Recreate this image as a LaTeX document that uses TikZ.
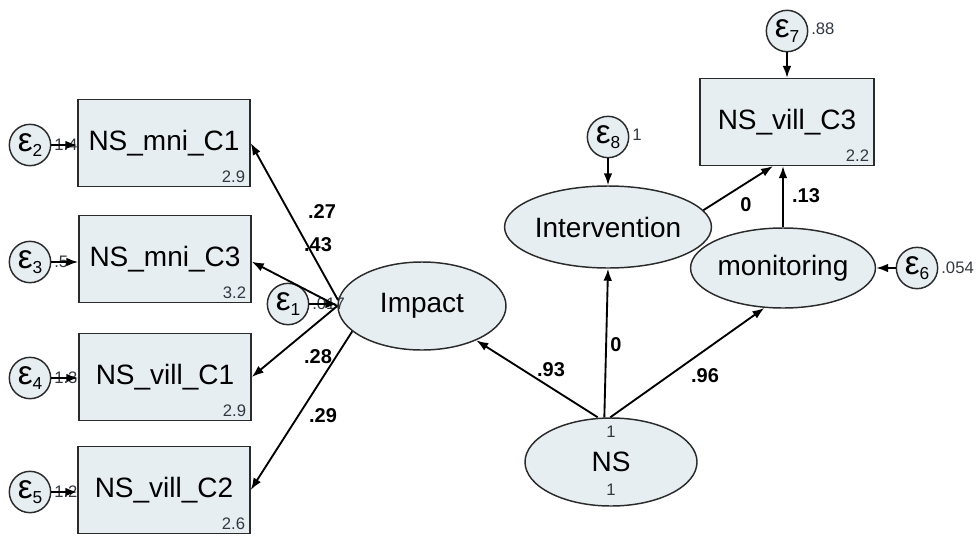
\documentclass[tikz,border=0pt]{standalone}
\usepackage{fontspec}
\setmainfont{Liberation Sans}
\usetikzlibrary{shapes.geometric,arrows.meta}
\definecolor{fillc}{HTML}{E6EEF2}
\definecolor{linec}{HTML}{2B2B2B}
\definecolor{numc}{HTML}{333840}
\newcommand{\epsl}[1]{{\fontsize{25}{25}\selectfont ε}{\fontsize{13}{13}\selectfont\raisebox{-3.5pt}{#1}}}
\tikzset{
  obsbox/.style={draw=linec, line width=1.1pt, fill=fillc, minimum width=129pt, minimum height=65pt, inner sep=0pt, font=\fontsize{21}{21}\selectfont},
  latent/.style={ellipse, draw=linec, line width=1.1pt, fill=fillc, inner sep=0pt, font=\fontsize{21}{21}\selectfont},
  errc/.style={circle, draw=linec, line width=1.1pt, fill=fillc, minimum size=31pt, inner sep=0pt},
  smallnum/.style={font=\fontsize{12.5}{12.5}\selectfont, text=numc, inner sep=1pt},
  coef/.style={font=\bfseries\fontsize{15}{15}\selectfont, inner sep=0pt},
  arr/.style={-{Latex[length=9pt,width=6.5pt]}, line width=1.4pt, draw=black},
}
\begin{document}
\begin{tikzpicture}[x=0.75pt,y=-0.75pt]
\useasboundingbox (0,0) rectangle (980,543);
% observed boxes
\node[obsbox] (b1) at (164,143) {NS\_mni\_C1};
\node[obsbox] (b2) at (165,259) {NS\_mni\_C3};
\node[obsbox] (b3) at (165,377) {NS\_vill\_C1};
\node[obsbox] (b4) at (164,490) {NS\_vill\_C2};
\node[obsbox, minimum width=130.5pt] (b5) at (787,122) {NS\_vill\_C3};
\foreach \b/\v in {b1/2.9,b2/3.2,b3/2.9,b4/2.6,b5/2.2}
  \node[smallnum, anchor=south east, xshift=-3pt, yshift=2pt] (\b n) at (\b.south east) {\v};
% latent ellipses
\node[latent, minimum width=126pt, minimum height=66pt] (imp) at (422,306) {Impact};
\node[latent, minimum width=129pt, minimum height=66pt] (ns) at (611,462) {NS};
\node[latent, minimum width=129pt, minimum height=61.5pt] (int) at (608,227) {Intervention};
\node[latent, minimum width=130.5pt, minimum height=60pt] (mon) at (783,268) {monitoring};
\node[smallnum] (nst) at (611,432) {1};
\node[smallnum] (nsb) at (611,490) {1};
% error circles
\node[errc] (e1) at (288,304) {\epsl{1}};
\node[errc] (e2) at (30,145) {\epsl{2}};
\node[errc] (e3) at (30,262) {\epsl{3}};
\node[errc] (e4) at (30,378) {\epsl{4}};
\node[errc] (e5) at (30,492) {\epsl{5}};
\node[errc] (e6) at (917,268) {\epsl{6}};
\node[errc] (e7) at (787,31) {\epsl{7}};
\node[errc] (e8) at (608,137) {\epsl{8}};
% error variance labels
\node[smallnum, anchor=west] (v1) at ([xshift=1pt]e1.east) {.017};
\node[smallnum, anchor=west] (v2) at ([xshift=1pt]e2.east) {1.4};
\node[smallnum, anchor=west] (v3) at ([xshift=1pt]e3.east) {.5};
\node[smallnum, anchor=west] (v4) at ([xshift=1pt]e4.east) {1.3};
\node[smallnum, anchor=west] (v5) at ([xshift=1pt]e5.east) {1.2};
\node[smallnum, anchor=west] (v6) at ([xshift=1pt]e6.east) {.054};
\node[smallnum, anchor=west] (v7) at ([xshift=1pt, yshift=2pt]e7.east) {.88};
\node[smallnum, anchor=west] (v8) at ([xshift=1pt, yshift=2pt]e8.east) {1};
% error arrows
\draw[arr] (e1) -- (e1 -| imp.west);
\draw[arr] (e2) -- (e2 -| b1.west);
\draw[arr] (e3) -- (e3 -| b2.west);
\draw[arr] (e4) -- (e4 -| b3.west);
\draw[arr] (e5) -- (e5 -| b4.west);
\draw[arr] (e6) -- (mon);
\draw[arr] (e7) -- (b5);
\draw[arr] (e8) -- (int);
% loadings from Impact
\draw[arr] (imp.176) -- (b1.east);
\draw[arr] (imp.west) -- ([yshift=-2pt]b2.east);
\draw[arr] (imp.west) -- (b3.east);
\draw[arr] (imp.200) -- (b4.east);
% structural paths
\coordinate (nsA) at ([xshift=-10pt]ns.north);
\coordinate (nsB) at ([xshift=-5pt]ns.north);
\coordinate (nsC) at ([xshift=-0.5pt]ns.north);
\draw[arr] (nsA) -- (imp);
\draw[arr] (nsB) -- (int.south);
\draw[arr] (nsC) -- (mon.245);
\draw[arr] (int.10) -- ([xshift=-10.5pt]b5.south);
\draw[arr] (mon.north) -- (mon.north |- b5.south);
% coefficient labels
\node[coef] (c1) at (322,212) {.27};
\node[coef] (c2) at (318,245) {.43};
\node[coef] (c3) at (318,357) {.28};
\node[coef] (c4) at (323,416) {.29};
\node[coef] (c5) at (551,370) {.93};
\node[coef] (c6) at (616,345) {0};
\node[coef] (c7) at (705,376) {.96};
\node[coef] (c8) at (746,205) {0};
\node[coef] (c9) at (806,196) {.13};
\end{tikzpicture}
\end{document}
